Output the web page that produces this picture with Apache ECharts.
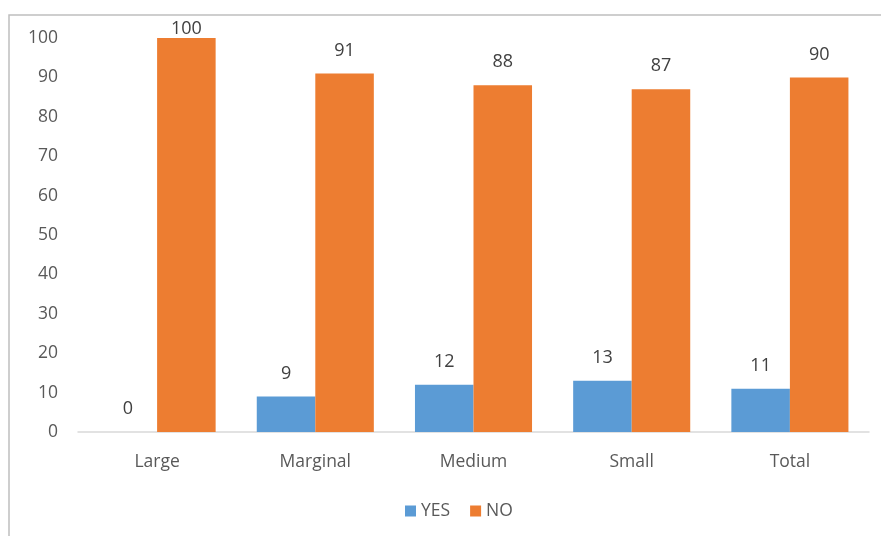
<!DOCTYPE html>
<html>
<head>
<meta charset="utf-8">
<script src="https://cdn.jsdelivr.net/npm/echarts@6/dist/echarts.min.js"></script>
<style>
  html, body { margin: 0; padding: 0; background: #ffffff; }
  #chart { width: 881px; height: 536px; }
</style>
</head>
<body>
<div id="chart"></div>
<script>
const categories = ['Large', 'Marginal', 'Medium', 'Small', 'Total'];
const yesValues = [0, 9, 12, 13, 11];
const noValues = [100, 91, 88, 87, 90];
const seriesNames = ['YES', 'NO'];

const FONT = '"Open Sans", "Noto Sans", sans-serif';
const yMax = 100;

// Labels sitting on a bar that reaches the top of the axis are tucked closer in.
function toItems(values) {
  return values.map(v => v >= yMax
    ? { value: v, label: { distance: 0 } }
    : v);
}

const chart = echarts.init(document.getElementById('chart'), null, { renderer: 'canvas' });

const labelStyle = {
  show: true,
  position: 'top',
  distance: 14,
  color: '#404040',
  fontSize: 18,
  fontFamily: FONT
};

chart.setOption({
  animation: false,
  backgroundColor: '#ffffff',
  graphic: [{
    type: 'polyline',
    shape: { points: [[9, 540], [9, 15], [890, 15]] },
    style: { stroke: '#bfbfbf', lineWidth: 1.5, fill: null },
    silent: true
  }],
  grid: { left: 78, right: 12, top: 38, bottom: 104, containLabel: false },
  legend: {
    data: seriesNames,
    bottom: 11,
    left: 400,
    itemWidth: 11,
    itemHeight: 11,
    itemGap: 20,
    icon: 'rect',
    textStyle: { color: '#595959', fontSize: 17.5, fontFamily: FONT }
  },
  xAxis: {
    type: 'category',
    data: categories,
    axisLine: { lineStyle: { color: '#d9d9d9', width: 1.5 } },
    axisTick: { show: false },
    axisLabel: { color: '#595959', fontSize: 17.5, fontFamily: FONT, margin: 21 }
  },
  yAxis: {
    type: 'value',
    min: 0,
    max: yMax,
    interval: 10,
    splitLine: { show: false },
    axisLine: { show: false },
    axisTick: { show: false },
    axisLabel: { color: '#595959', fontSize: 17.5, fontFamily: FONT, margin: 20 }
  },
  series: [
    {
      name: seriesNames[0],
      type: 'bar',
      data: toItems(yesValues),
      itemStyle: { color: '#5B9BD5' },
      barGap: '0%',
      barCategoryGap: '26%',
      label: labelStyle
    },
    {
      name: seriesNames[1],
      type: 'bar',
      data: toItems(noValues),
      itemStyle: { color: '#ED7D31' },
      barGap: '0%',
      barCategoryGap: '26%',
      label: labelStyle
    }
  ]
});
</script>
</body>
</html>
